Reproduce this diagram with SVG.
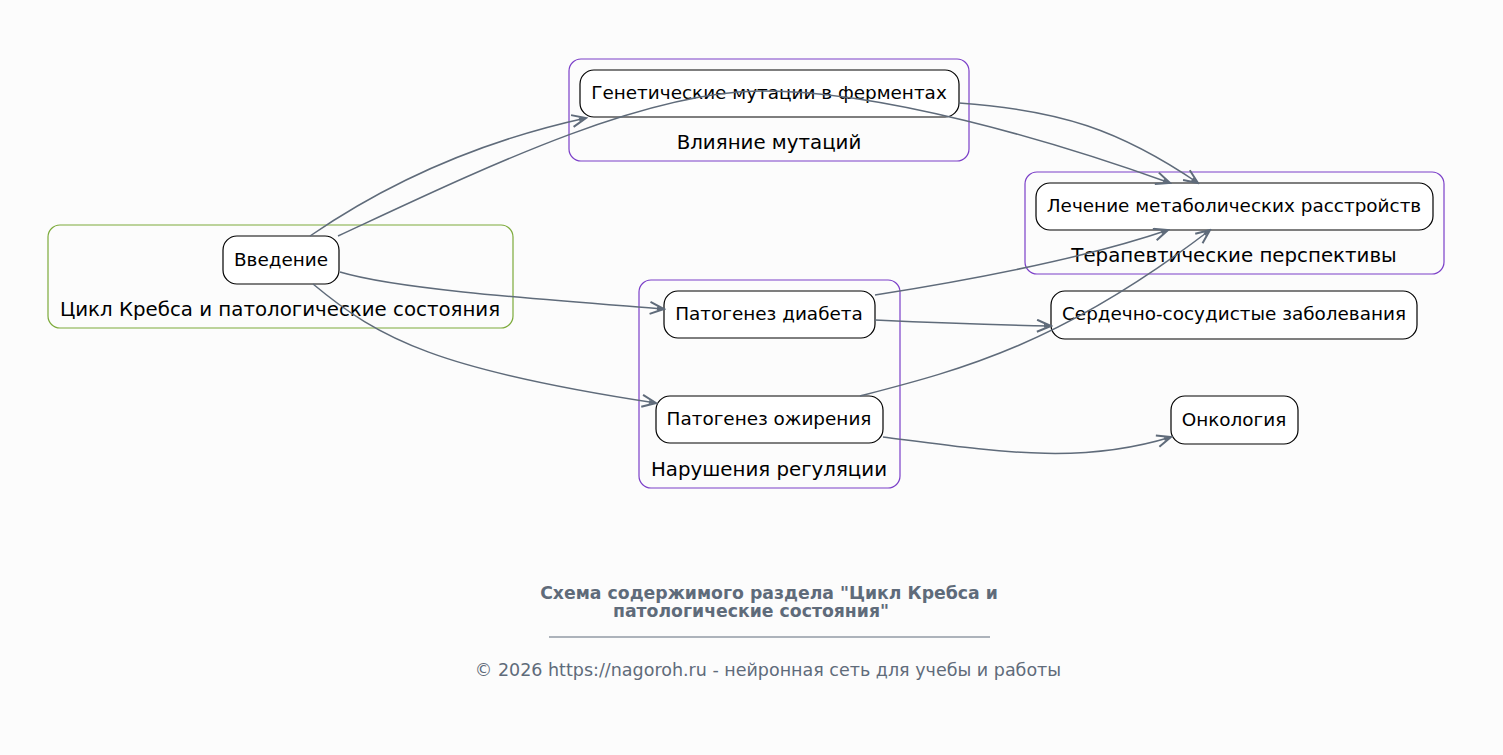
<svg xmlns="http://www.w3.org/2000/svg" width="1503" height="755" viewBox="0 0 1503 755">
<style>
.bg{fill:#fcfcfc}
.cl{fill:none;stroke-width:1.2}
.node rect{fill:#ffffff;stroke:#000000;stroke-width:1.2}
text{font-family:"DejaVu Sans",sans-serif;fill:#000}
.nt{font-size:18.4px;text-anchor:middle}
.ct{font-size:19.8px;text-anchor:middle}
.e{fill:none;stroke:#5f6b7a;stroke-width:1.5;marker-end:url(#ah)}
.ft{fill:#5f6b7a;text-anchor:middle}
</style>
<defs>
<marker id="ah" viewBox="0 0 18 14" refX="16" refY="7" markerWidth="18" markerHeight="14" markerUnits="userSpaceOnUse" orient="auto">
<path d="M2,1 L16,7 L2,13" fill="none" stroke="#5f6b7a" stroke-width="2"/>
<path d="M9,5 L16,7 L9,9 Z" fill="#5f6b7a"/>
</marker>
</defs>
<rect class="bg" x="0" y="0" width="1503" height="755"/>
<g id="cluster-main">
<rect class="cl" x="48" y="225" width="465" height="103" rx="12" stroke="#7caa3a"/>
<text class="ct" x="280" y="316">Цикл Кребса и патологические состояния</text>
</g>
<g id="cluster-mut">
<rect class="cl" x="569" y="59" width="400" height="102" rx="12" stroke="#7b3fc8"/>
<text class="ct" x="769" y="149">Влияние мутаций</text>
</g>
<g id="cluster-ther">
<rect class="cl" x="1025" y="172" width="419" height="102" rx="12" stroke="#7b3fc8"/>
<text class="ct" x="1234" y="262">Терапевтические перспективы</text>
</g>
<g id="cluster-reg">
<rect class="cl" x="639" y="280" width="261" height="208" rx="12" stroke="#7b3fc8"/>
<text class="ct" x="769" y="476">Нарушения регуляции</text>
</g>
<g id="n-intro" class="node">
<rect x="223" y="236" width="116" height="48" rx="14"/>
<text class="nt" x="281" y="266">Введение</text>
</g>
<g id="n-gen" class="node">
<rect x="580" y="70" width="379" height="47" rx="14"/>
<text class="nt" x="769" y="99">Генетические мутации в ферментах</text>
</g>
<g id="n-treat" class="node">
<rect x="1036" y="183" width="397" height="47" rx="14"/>
<text class="nt" x="1234" y="212">Лечение метаболических расстройств</text>
</g>
<g id="n-diab" class="node">
<rect x="664" y="291" width="211" height="47" rx="14"/>
<text class="nt" x="769" y="320">Патогенез диабета</text>
</g>
<g id="n-obes" class="node">
<rect x="656" y="396" width="227" height="47" rx="14"/>
<text class="nt" x="769" y="425">Патогенез ожирения</text>
</g>
<g id="n-cardio" class="node">
<rect x="1051" y="291" width="366" height="48" rx="14"/>
<text class="nt" x="1234" y="320">Сердечно-сосудистые заболевания</text>
</g>
<g id="n-onco" class="node">
<rect x="1171" y="396" width="127" height="48" rx="14"/>
<text class="nt" x="1234" y="426">Онкология</text>
</g>
<g id="edges">
<path class="e" d="M310,236 C345,212 440,150 586,118"/>
<path class="e" d="M338,236 C480,170 640,92 760,91 C880,90 1050,140 1170,183"/>
<path class="e" d="M959,103 C1060,110 1120,130 1198,183"/>
<path class="e" d="M340,272 C400,290 550,300 664,309"/>
<path class="e" d="M313,284 C380,340 440,370 656,403"/>
<path class="e" d="M875,295 C970,280 1080,260 1168,230"/>
<path class="e" d="M875,320 C940,323 1000,325 1051,326"/>
<path class="e" d="M860,396 C960,370 1060,345 1210,230"/>
<path class="e" d="M883,437 C1000,452 1080,465 1171,437"/>
</g>
<g id="footer">
<text class="ft" x="769" y="599" font-size="17.3" font-weight="bold">Схема содержимого раздела "Цикл Кребса и</text>
<text class="ft" x="751" y="617" font-size="17.3" font-weight="bold">патологические состояния"</text>
<line x1="549" y1="637" x2="990" y2="637" stroke="#5f6b7a" stroke-width="1"/>
<text class="ft" x="768" y="676" font-size="17.5">© 2026 https://nagoroh.ru - нейронная сеть для учебы и работы</text>
</g>
</svg>
